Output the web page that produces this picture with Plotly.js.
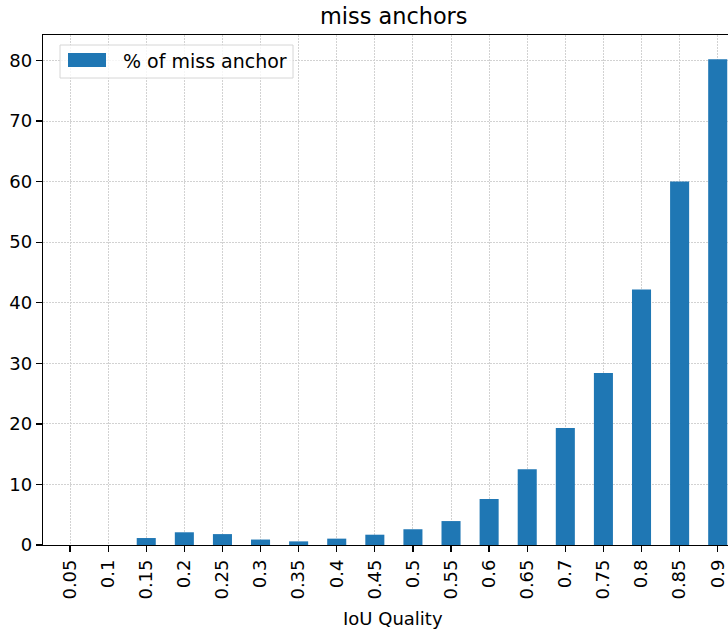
<!DOCTYPE html>
<html>
<head>
<meta charset="utf-8">
<script src="https://cdn.plot.ly/plotly-3.0.1.min.js"></script>
<style>html,body{margin:0;padding:0;background:#fff;overflow:hidden;}</style>
</head>
<body>
<div id="chart" style="width:728px;height:630px;"></div>
<script>
const categories = ["0.05","0.1","0.15","0.2","0.25","0.3","0.35","0.4","0.45","0.5","0.55","0.6","0.65","0.7","0.75","0.8","0.85","0.9"];
const missAnchor = [0, 0, 1.15, 2.1, 1.8, 0.9, 0.6, 1.05, 1.7, 2.6, 3.95, 7.6, 12.5, 19.3, 28.4, 42.2, 60.0, 80.2];
const yTicks = [0, 10, 20, 30, 40, 50, 60, 70, 80];
const seriesName = "% of miss anchor";
const chartTitle = "miss anchors";
const xLabel = "IoU Quality";

const L = 43, R = 728, T = 35, B = 545;
const px = v => (v - L) / (R - L);
const py = v => (B - v) / (B - T);
const fam = "DejaVu Sans, sans-serif";
const font = {family: fam, size: 18, color: "#000"};
const gridColor = "#d2d2d2";

const trace = {
  type: "bar",
  x: categories,
  y: missAnchor,
  name: seriesName,
  width: 0.5,
  marker: {color: "#1f77b4", line: {width: 0}},
  hoverinfo: "x+y"
};

const layout = {
  width: 728, height: 630,
  margin: {l: L, r: 0, t: T, b: 630 - B, pad: 0},
  paper_bgcolor: "#fff", plot_bgcolor: "#fff",
  showlegend: false,
  font: font,
  xaxis: {
    type: "category",
    range: [-0.71, 17.27],
    tickangle: -90,
    ticks: "outside", ticklen: 6, tickwidth: 1.3, tickcolor: "#000",
    showline: true, linecolor: "#000", linewidth: 1.3, mirror: true,
    showgrid: true, gridcolor: gridColor, gridwidth: 1, griddash: "1.5px,1.5px",
    tickfont: font, zeroline: false
  },
  yaxis: {
    range: [0, 84.2],
    tickvals: yTicks,
    ticks: "outside", ticklen: 6, tickwidth: 1.3, tickcolor: "#000",
    showline: true, linecolor: "#000", linewidth: 1.3,
    showgrid: true, gridcolor: gridColor, gridwidth: 1, griddash: "1.5px,1.5px",
    zeroline: false, tickfont: font
  },
  shapes: [
    {type: "rect", xref: "paper", yref: "paper", x0: px(60), x1: px(293), y0: py(78), y1: py(45),
     fillcolor: "rgba(255,255,255,0.8)", line: {color: "#d6d6d6", width: 1}, layer: "above"},
    {type: "rect", xref: "paper", yref: "paper", x0: px(68), x1: px(106), y0: py(67), y1: py(53),
     fillcolor: "#1f77b4", line: {width: 0}, layer: "above"}
  ],
  annotations: [
    {text: seriesName, xref: "paper", yref: "paper", x: px(121), y: py(61), xanchor: "left", yanchor: "middle",
     showarrow: false, font: {family: fam, size: 19, color: "#000"}},
    {text: chartTitle, xref: "paper", yref: "paper", x: px(393), y: py(16), xanchor: "center", yanchor: "middle",
     showarrow: false, font: {family: fam, size: 22.4, color: "#000"}},
    {text: xLabel, xref: "paper", yref: "paper", x: px(393), y: py(618), xanchor: "center", yanchor: "middle",
     showarrow: false, font: {family: fam, size: 18, color: "#000"}}
  ]
};

Plotly.newPlot("chart", [trace], layout, {displayModeBar: false, staticPlot: true});
</script>
</body>
</html>
